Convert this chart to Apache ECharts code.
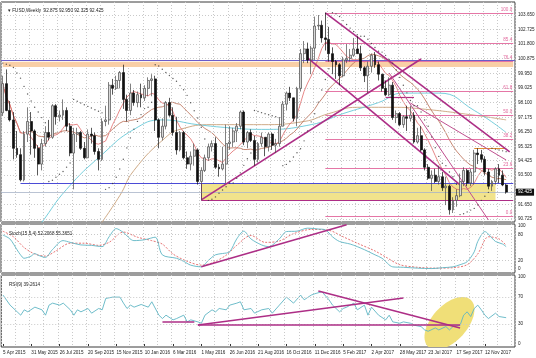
<!DOCTYPE html>
<html><head><meta charset="utf-8">
<script src="https://cdn.jsdelivr.net/npm/echarts@6/dist/echarts.min.js"></script>
<style>html,body{margin:0;padding:0;background:#fff}#c{width:536px;height:358px}</style>
</head><body><div id="c"></div>
<script>
// ---------- DATA ----------
const firstWeek = Date.UTC(2015, 3, 5);
const monthNames = ['Jan','Feb','Mar','Apr','May','Jun','Jul','Aug','Sep','Oct','Nov','Dec'];
const slotCount = 145; // 143 weekly bars + 2 empty slots (chart shift)
const categories = Array.from({length: slotCount}, (_, i) => {
  const d = new Date(firstWeek + i * 7 * 86400000);
  return d.getUTCDate() + ' ' + monthNames[d.getUTCMonth()] + ' ' + d.getUTCFullYear();
});

const opens = [97.45,99.30,97.60,97.00,95.20,94.80,93.20,96.10,96.90,96.30,95.20,94.20,95.50,96.20,95.90,97.90,97.20,97.30,97.60,96.60,94.90,96.10,96.20,95.20,94.60,96.10,96.00,95.00,94.50,96.90,97.00,99.20,99.00,99.50,100.00,98.30,97.60,98.70,98.10,98.60,98.40,99.00,99.50,99.60,97.00,95.90,96.60,98.10,97.30,96.20,95.10,96.20,94.60,94.20,94.70,95.10,93.10,93.80,94.60,95.30,95.50,94.00,93.90,94.20,95.50,95.60,96.30,96.60,97.50,95.60,96.20,95.70,94.50,95.50,95.90,95.30,96.10,95.40,95.50,96.60,98.00,98.70,98.40,97.10,99.00,101.20,101.50,100.80,101.55,102.95,103.00,102.20,102.10,101.20,100.70,100.50,99.80,100.80,100.90,101.10,101.50,101.20,100.30,99.80,100.40,101.10,100.50,99.90,99.00,98.60,99.20,97.15,97.40,96.70,97.20,97.10,97.30,95.60,96.00,95.10,94.00,93.30,93.50,93.10,93.40,92.70,92.80,91.30,91.90,92.20,93.10,93.80,93.00,93.70,94.90,94.80,94.50,93.70,92.80,93.10,93.90,93.50,92.875];
const highs = [99.80,100.20,98.20,97.50,96.30,95.20,96.30,97.80,97.50,96.40,95.40,95.80,96.60,97.00,98.00,98.00,97.60,98.30,97.80,96.80,96.50,96.50,96.30,95.60,96.40,96.50,96.20,95.20,97.10,97.90,99.40,99.60,99.80,100.10,100.50,98.60,99.30,98.90,98.80,99.30,99.20,99.70,99.90,99.80,97.10,97.10,98.20,98.40,97.80,97.20,96.30,96.30,95.00,95.00,95.50,95.20,94.00,94.80,95.50,95.70,95.90,94.20,95.30,96.70,96.60,96.50,96.80,97.60,97.60,96.30,96.40,96.00,95.60,96.20,95.90,96.20,96.20,95.80,97.10,98.20,98.80,99.10,98.40,99.10,101.50,102.00,101.90,101.70,103.55,103.65,103.30,103.80,102.90,101.60,100.80,100.60,101.00,101.80,101.50,102.20,102.30,101.70,100.40,100.70,101.20,101.30,100.70,99.90,99.50,99.70,99.40,97.60,97.50,97.30,97.90,97.90,97.50,96.50,96.60,95.20,94.20,93.80,93.90,94.10,93.70,93.40,92.90,92.10,92.60,93.60,94.00,93.90,93.90,95.10,95.20,95.10,94.70,93.90,93.20,94.00,94.20,93.80,92.950];
const lows = [97.25,97.55,96.90,94.50,94.60,93.10,93.10,95.60,94.80,94.60,93.50,93.80,95.30,95.70,95.80,96.70,96.90,97.00,96.30,94.70,92.60,95.60,95.10,94.50,94.60,95.50,94.80,93.80,94.40,96.60,96.70,98.60,98.90,99.00,97.70,96.90,97.30,97.90,97.80,97.80,98.20,98.50,98.50,96.30,95.20,95.70,96.40,97.20,96.00,94.80,95.00,94.50,93.90,93.80,94.10,92.90,91.90,93.70,94.40,95.00,93.90,93.40,93.80,93.00,95.10,95.30,95.60,96.40,95.40,95.20,95.60,94.10,94.30,95.30,94.70,95.00,95.10,94.90,95.30,96.60,97.60,98.20,96.90,96.60,98.80,100.60,100.60,99.90,100.80,102.70,101.90,101.40,100.70,99.90,99.60,99.20,99.70,100.60,100.70,101.00,101.20,100.10,99.40,98.70,100.00,100.30,99.50,98.80,98.50,98.50,97.00,96.80,96.60,96.50,96.30,96.90,95.50,95.50,95.00,93.80,93.20,92.50,93.00,92.90,92.50,91.60,91.00,91.10,91.50,92.10,92.80,92.80,92.80,92.90,94.20,94.30,93.50,92.60,92.50,92.90,93.00,92.80,92.325];
const closes = [99.30,97.60,97.00,95.20,94.80,93.20,96.10,96.90,96.30,95.20,94.20,95.50,96.20,95.90,97.90,97.20,97.30,97.60,96.60,94.90,96.10,96.20,95.20,94.60,96.10,96.00,95.00,94.50,96.90,97.00,99.20,99.00,99.50,100.00,98.30,97.60,98.70,98.10,98.60,98.40,99.00,99.50,99.60,97.00,95.90,96.60,98.10,97.30,96.20,95.10,96.20,94.60,94.20,94.70,95.10,93.10,93.80,94.60,95.30,95.50,94.00,93.90,94.20,95.50,95.60,96.30,96.60,97.50,95.60,96.20,95.70,94.50,95.50,95.90,95.30,96.10,95.40,95.50,96.60,98.00,98.70,98.40,97.10,99.00,101.20,101.50,100.80,101.55,102.95,103.00,102.20,102.10,101.20,100.70,100.50,99.80,100.80,100.90,101.10,101.50,101.20,100.30,99.80,100.40,101.10,100.50,99.90,99.00,98.60,99.20,97.15,97.40,96.70,97.20,97.10,97.30,95.60,96.00,95.10,94.00,93.30,93.50,93.10,93.40,92.70,92.80,91.30,91.90,92.20,93.10,93.80,93.00,93.70,94.90,94.80,94.50,93.70,92.80,93.10,93.90,93.50,92.875,92.425];

// long moving averages: [barIndex, value]
const maCyan = [[8,89.6],[11,90.5],[18,92.6],[28,94.8],[37,96.4],[45,97.0],[55,96.7],[64,96.5],[73,96.4],[87,96.7],[96,97.4],[106,98.1],[113,98.7],[123,98.7],[133,97.6],[142,96.2]];
const maTan = [[27,90.2],[33,92.2],[37,93.8],[46,95.9],[50,96.4],[59,96.7],[73,96.7],[85,96.9],[92,97.4],[100,97.8],[110,97.8],[118,97.7],[133,97.3],[142,97.0]];

// Stochastic (15,5,4)
const stochK = [[0,79],[2,70],[4,45],[5,33],[6,25],[8,30],[9,36],[10,32],[12,27],[14,45],[17,66],[19,62],[22,56],[25,55],[28,52],[30,75],[32,94],[34,85],[37,66],[40,68],[43,74],[45,33],[49,25],[51,18],[53,9],[56,5],[58,20],[60,33],[62,36],[64,40],[66,70],[68,88],[70,70],[73,56],[75,52],[78,70],[80,87],[83,88],[86,95],[89,93],[91,91],[93,75],[95,64],[98,58],[100,52],[102,45],[105,33],[107,25],[110,5],[113,4],[117,2],[121,1],[124,3],[127,5],[129,10],[131,17],[133,40],[134,64],[136,87],[138,72],[139,64],[141,58],[142,52]];
const stochD = [[0,88],[3,75],[6,50],[9,35],[12,30],[15,42],[19,60],[23,60],[27,55],[30,62],[34,86],[38,74],[42,66],[45,58],[48,35],[52,18],[56,9],[59,14],[63,32],[66,55],[70,78],[74,62],[78,65],[82,82],[87,92],[92,90],[96,75],[100,60],[105,42],[108,28],[112,10],[117,4],[122,2],[127,3],[131,10],[134,35],[137,75],[140,70],[142,55]];

// RSI(9)
const rsi = [[0,73],[2,58],[4,48],[5,43],[6,51],[7,48],[9,55],[11,51],[12,43],[13,58],[14,61],[16,58],[17,61],[19,51],[20,43],[21,51],[22,48],[24,53],[25,46],[27,53],[28,51],[29,68],[31,70],[33,70],[34,61],[35,53],[36,58],[37,55],[39,59],[41,55],[42,63],[44,43],[45,38],[46,43],[48,36],[49,38],[51,43],[52,33],[53,36],[55,33],[56,31],[57,43],[59,51],[60,48],[61,53],[63,51],[64,58],[66,61],[67,63],[68,51],[70,53],[71,46],[73,51],[75,53],[76,46],[78,58],[80,70],[82,61],[84,73],[85,66],[87,73],[88,75],[90,78],[92,66],[93,58],[95,48],[96,53],[97,55],[99,61],[100,51],[102,58],[103,43],[104,55],[106,43],[108,36],[109,43],[110,33],[112,31],[113,33],[115,31],[116,28],[118,26],[119,21],[120,19],[122,24],[123,21],[125,26],[126,21],[127,26],[129,28],[130,43],[131,48],[132,41],[133,53],[134,58],[135,51],[136,43],[137,38],[139,46],[140,41],[142,39.26]];

// axis tick labels
const priceTicks = ['103.650','102.725','101.800','100.875','99.950','99.025','98.100','97.175','96.250','95.325','94.425','93.500','91.650','90.725'];
const stochTicks = ['100','80','20','0'];
const rsiTicks = ['100','70','30','0'];
const stochLevels = [80, 20];
const rsiLevels = [70, 30];

// horizontal levels & drawn objects
const fibLow = 90.87, fibHigh = 103.76;
const fibRatios = [100.0, 85.4, 76.4, 61.8, 50.0, 38.2, 23.6, 0.0];
const fibStartBar = 91;
const resistanceLine = 100.8;            // purple
const resistanceBand = [100.35, 100.68]; // orange band
const supportLine = [5, 93.0];           // blue, from bar 5
const supportZone = [56, 139, 93.0, 91.93]; // yellow rectangle
const lowLine = [56, 91.93];
const bidPrice = 92.425;
const trendLines = [
  [[56, 91.93], [118, 100.86]],
  [[91, 103.78], [143, 94.97]],
  [[86, 100.93], [129, 92.88]]
];
const thinTrendLines = [
  [[109, 99.97], [137, 90.66]],
  [[115, 98.07], [142, 94.46]]
];
const shortLines = [
  [108, 116, 98.42, '#b0307f'],
  [133, 142, 95.2, '#e08a30']
];
const stochTrend = [[56, 5], [97, 103]];
const rsiTrends = [
  [[45, 33.3], [54, 33.3]],
  [[55, 28.4], [113, 68.6]],
  [[55, 28.4], [129, 28.4]],
  [[89, 79], [129, 24]]
];
const rsiEllipse = [[126, 31, 132, 66]];

const header = 'FUSD,Weekly  92.875 92.950 92.325 92.425';
const stochTitle = 'Stoch(15,5,4) 52.2068 55.3651';
const rsiTitle = 'RSI(9) 39.2614';

// ---------- DERIVED ----------
const nBars = closes.length;
const candleData = closes.map((c, i) => [opens[i], c, lows[i], highs[i]]);
function sma(arr, n) {
  return arr.map((_, i) => {
    const s = Math.max(0, i - n + 1);
    let t = 0; for (let k = s; k <= i; k++) t += arr[k];
    return +(t / (i - s + 1)).toFixed(3);
  });
}
function psar(step, maxAf) {
  const out = [];
  let up = false, af = step, ep = lows[0], sar = 100.6;
  out.push(sar);
  for (let i = 1; i < nBars; i++) {
    sar = sar + af * (ep - sar);
    if (up) {
      sar = Math.min(sar, lows[i - 1], i > 1 ? lows[i - 2] : lows[i - 1]);
      if (lows[i] < sar) { up = false; sar = ep; ep = lows[i]; af = step; }
      else if (highs[i] > ep) { ep = highs[i]; af = Math.min(af + step, maxAf); }
    } else {
      sar = Math.max(sar, highs[i - 1], i > 1 ? highs[i - 2] : highs[i - 1]);
      if (highs[i] > sar) { up = true; sar = ep; ep = highs[i]; af = step; }
      else if (lows[i] < ep) { ep = lows[i]; af = Math.min(af + step, maxAf); }
    }
    out.push(+sar.toFixed(3));
  }
  return out;
}
const sarData = psar(0.02, 0.2);
const maFast = sma(closes, 8);
const maMid = sma(closes, 21);

// ---------- CHART ----------
const FONT = 'Liberation Sans';
const FS = 4.6;
const gridC = '#c9c9c9';
const chart = echarts.init(document.getElementById('c'), null, {renderer: 'canvas'});

const grids = [
  {left: 1, right: 21, top: 2, height: 220},
  {left: 1, right: 21, top: 224, height: 49},
  {left: 1, right: 21, top: 275, height: 72}
].map(g => Object.assign(g, {show: true, borderColor: '#3a3a3a', borderWidth: 1, containLabel: false}));

const showLabel = (i) => i % 8 === 0 && i < nBars;
const xAxes = [0, 1, 2].map(k => ({
  type: 'category', gridIndex: k, data: categories, boundaryGap: true,
  axisLine: {show: false}, axisTick: k === 2 ? {show: true, alignWithLabel: true, interval: showLabel, length: 2, lineStyle: {color: '#333'}} : {show: false},
  axisLabel: k === 2 ? {show: true, interval: showLabel, align: 'left', margin: 3, fontSize: FS, fontFamily: FONT, color: '#222'} : {show: false},
  splitLine: {show: true, interval: (i) => i % 4 === 0, lineStyle: {color: gridC, type: [1, 2], width: 1}}
}));
const yAxes = [
  {gridIndex: 0, min: 90.53, max: 104.474},
  {gridIndex: 1, min: -9.3, max: 104.65},
  {gridIndex: 2, min: -4.5, max: 103}
].map(a => Object.assign(a, {type: 'value', position: 'right', scale: true, axisLine: {show: false}, axisTick: {show: false}, axisLabel: {show: false}, splitLine: {show: false}}));

function tickLines(ticks, gridLevels) {
  return ticks.map(t => {
    const v = parseFloat(t);
    const drawn = gridLevels === true || (gridLevels && gridLevels.includes(v));
    return {yAxis: v, lineStyle: {color: drawn ? gridC : 'rgba(0,0,0,0)', type: [1, 2], width: 1},
      label: {show: true, position: 'end', distance: 3, formatter: t, fontSize: FS, fontFamily: FONT, color: '#222'}};
  });
}
function seg(a, b, style) {
  return [{coord: a, lineStyle: style}, {coord: b}];
}
const magenta = '#ad2e86';
const fibColor = '#e2679c';

const blank = new Array(nBars).fill(null);
const series = [
  // background areas + price grid
  {type: 'line', xAxisIndex: 0, yAxisIndex: 0, data: blank, z: 1, silent: true, symbol: 'none',
    markArea: {silent: true, data: [
      [{coord: [0, resistanceBand[1]], itemStyle: {color: '#f9cfa6'}}, {coord: [slotCount - 1, resistanceBand[0]]}],
      [{coord: [supportZone[0], supportZone[2]], itemStyle: {color: '#f1e38c'}}, {coord: [supportZone[1], supportZone[3]]}]
    ]},
    markLine: {silent: true, symbol: ['none', 'none'], animation: false, data: tickLines(priceTicks, true)}
  },
  // levels
  {type: 'line', xAxisIndex: 0, yAxisIndex: 0, data: blank, z: 2, silent: true, symbol: 'none',
    markLine: {silent: true, symbol: ['none', 'none'], animation: false, label: {show: false}, data: [
      {yAxis: resistanceLine, lineStyle: {color: '#6b5cc9', width: 1.2, type: 'solid'}},
      seg([supportLine[0], supportLine[1]], [slotCount - 1, supportLine[1]], {color: '#4b4bd6', width: 1.2, type: 'solid'}),
      seg([lowLine[0], lowLine[1]], [slotCount - 1, lowLine[1]], {color: magenta, width: 1.2, type: 'solid'}),
      seg([supportZone[0], supportZone[2]], [supportZone[0], supportZone[3]], {color: magenta, width: 1, type: 'solid'}),
      {yAxis: bidPrice, lineStyle: {color: '#a8b4c8', width: 0.8, type: 'solid'}},
      ...fibRatios.map(r => {
        const v = fibLow + (fibHigh - fibLow) * r / 100;
        return [{coord: [fibStartBar, v], lineStyle: {color: fibColor, width: 0.9, type: 'solid'},
          label: {show: true, position: 'insideEndTop', distance: 1, formatter: r.toFixed(1), fontSize: FS, fontFamily: FONT, color: fibColor}},
          {coord: [slotCount - 1, v]}];
      }),
      ...shortLines.map(s => seg([s[0], s[2]], [s[1], s[2]], {color: s[3], width: 1.2, type: 'solid'}))
    ]}
  },
  // moving averages
  {type: 'line', xAxisIndex: 0, yAxisIndex: 0, data: maTan, z: 3, symbol: 'none', smooth: true, lineStyle: {color: '#c9a27a', width: 0.9}, silent: true},
  {type: 'line', xAxisIndex: 0, yAxisIndex: 0, data: maCyan, z: 3, symbol: 'none', smooth: true, lineStyle: {color: '#66c8d8', width: 0.9}, silent: true},
  {type: 'line', xAxisIndex: 0, yAxisIndex: 0, data: maMid, z: 3, symbol: 'none', lineStyle: {color: '#b86a50', width: 0.8}, silent: true},
  {type: 'line', xAxisIndex: 0, yAxisIndex: 0, data: maFast, z: 3, symbol: 'none', lineStyle: {color: '#e06a6a', width: 0.8}, silent: true},
  // candles
  {type: 'candlestick', xAxisIndex: 0, yAxisIndex: 0, data: candleData, z: 5, barWidth: 2.4,
    itemStyle: {color: '#d9d9d9', color0: '#111', borderColor: '#4a4a4a', borderColor0: '#111', borderWidth: 0.7}},
  // parabolic SAR
  {type: 'scatter', xAxisIndex: 0, yAxisIndex: 0, data: sarData, z: 6, symbol: 'circle', symbolSize: 1.4, itemStyle: {color: '#333'}, silent: true},
  // trend lines
  {type: 'line', xAxisIndex: 0, yAxisIndex: 0, data: blank, z: 7, silent: true, symbol: 'none',
    markLine: {silent: true, symbol: ['none', 'none'], animation: false, label: {show: false}, data: [
      ...trendLines.map(t => seg(t[0], t[1], {color: magenta, width: 1.6, type: 'solid'})),
      ...thinTrendLines.map(t => seg(t[0], t[1], {color: '#c0508f', width: 1, type: 'solid'})),
      {yAxis: bidPrice, lineStyle: {color: 'rgba(0,0,0,0)'}, label: {show: true, position: 'end', distance: 1, formatter: bidPrice.toFixed(3), fontSize: FS, fontFamily: FONT, color: '#fff', backgroundColor: '#111', padding: [1, 2, 1, 2]}}
    ]}
  },
  // stochastic
  {type: 'line', xAxisIndex: 1, yAxisIndex: 1, data: blank, z: 1, silent: true, symbol: 'none',
    markLine: {silent: true, symbol: ['none', 'none'], animation: false, data: [
      ...tickLines(stochTicks, stochLevels),
      seg(stochTrend[0], stochTrend[1], {color: magenta, width: 1.6, type: 'solid'})
    ]}
  },
  {type: 'line', xAxisIndex: 1, yAxisIndex: 1, data: stochD, z: 3, symbol: 'none', smooth: 0.3, lineStyle: {color: '#e05050', width: 0.8, type: [2, 1.5]}, silent: true},
  {type: 'line', xAxisIndex: 1, yAxisIndex: 1, data: stochK, z: 4, symbol: 'none', smooth: 0.3, lineStyle: {color: '#5fb6c4', width: 0.9}, silent: true},
  // RSI
  {type: 'custom', xAxisIndex: 2, yAxisIndex: 2, data: rsiEllipse, z: 1, silent: true, clip: true,
    renderItem: (params, api) => {
      const c = api.coord([api.value(0), api.value(1)]);
      const e = api.coord([api.value(2), api.value(3)]);
      const dx = e[0] - c[0], dy = e[1] - c[1];
      const a = Math.hypot(dx, dy), b = a * 0.56, ang = Math.atan2(dy, dx);
      const pts = [];
      for (let k = 0; k < 60; k++) {
        const t = k / 60 * Math.PI * 2, x = a * Math.cos(t), y = b * Math.sin(t);
        pts.push([c[0] + x * Math.cos(ang) - y * Math.sin(ang), c[1] + x * Math.sin(ang) + y * Math.cos(ang)]);
      }
      return {type: 'polygon', shape: {points: pts}, style: {fill: '#f0df78'}};
    }
  },
  {type: 'line', xAxisIndex: 2, yAxisIndex: 2, data: blank, z: 2, silent: true, symbol: 'none',
    markLine: {silent: true, symbol: ['none', 'none'], animation: false, data: [
      ...tickLines(rsiTicks, rsiLevels),
      ...rsiTrends.map(t => seg(t[0], t[1], {color: magenta, width: 1.6, type: 'solid'}))
    ]}
  },
  {type: 'line', xAxisIndex: 2, yAxisIndex: 2, data: rsi, z: 4, symbol: 'none', lineStyle: {color: '#5fb6c4', width: 0.9}, silent: true}
];

chart.setOption({
  animation: false,
  backgroundColor: '#ffffff',
  textStyle: {fontFamily: FONT},
  title: [
    {text: '\u25BE ' + header, left: 3, top: 3, textStyle: {fontSize: FS, fontWeight: 'normal', color: '#222', fontFamily: FONT}},
    {text: stochTitle, left: 4, top: 226, textStyle: {fontSize: FS, fontWeight: 'normal', color: '#222', fontFamily: FONT}},
    {text: rsiTitle, left: 4, top: 277, textStyle: {fontSize: FS, fontWeight: 'normal', color: '#222', fontFamily: FONT}}
  ],
  grid: grids,
  xAxis: xAxes,
  yAxis: yAxes,
  series: series
});
</script>
</body></html>
